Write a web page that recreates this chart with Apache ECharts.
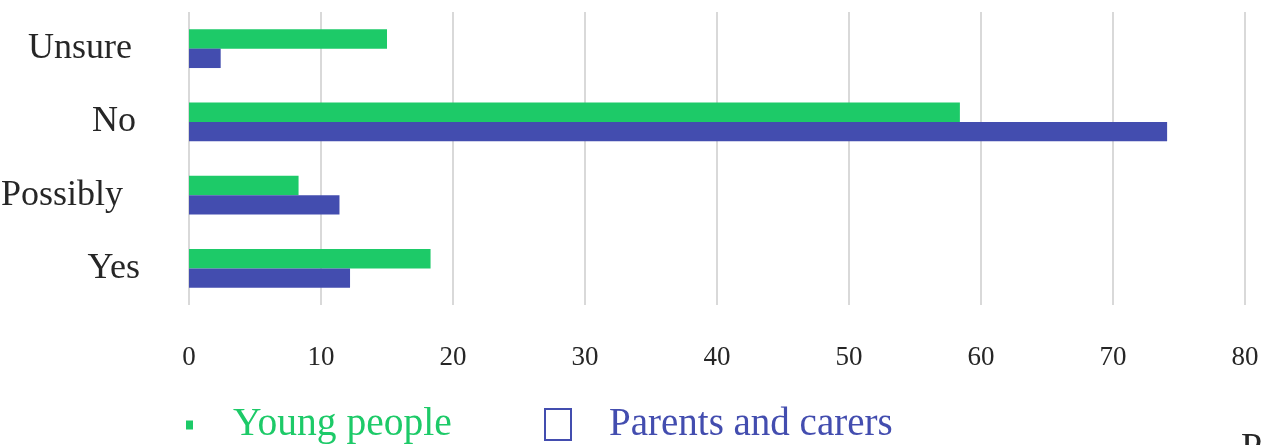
<!DOCTYPE html>
<html>
<head>
<meta charset="utf-8">
<script src="https://cdn.jsdelivr.net/npm/echarts@6/dist/echarts.min.js"></script>
<style>
  html, body { margin: 0; padding: 0; background: #fff; }
  #chart { width: 1269px; height: 445px; }
</style>
</head>
<body>
<div id="chart"></div>
<script>
// Survey answers, top to bottom
const categories = ['Unsure', 'No', 'Possibly', 'Yes'];
// Percentages per group
const youngPeople = [15.0, 58.4, 8.3, 18.3];
const parentsCarers = [2.4, 74.1, 11.4, 12.2];
const seriesNames = ['Young people', 'Parents and carers'];

const GREEN = '#1dca68';
const BLUE = '#434daf';
const INK = '#262626';
const SERIF = '"Liberation Serif", "DejaVu Serif", serif';

// Extra right padding of each category label (the labels sit a little irregularly)
const labelPadRight = { Unsure: 8, No: 4, Possibly: 17, Yes: 0 };

const chart = echarts.init(document.getElementById('chart'), null, { renderer: 'canvas' });

chart.setOption({
  backgroundColor: '#fff',
  animation: false,
  grid: { left: 189, right: 24, top: 12, bottom: 140, containLabel: false, outerBoundsMode: 'none' },
  xAxis: {
    type: 'value',
    min: 0,
    max: 80,
    interval: 10,
    axisLine: { show: false },
    axisTick: { show: false },
    splitLine: { show: true, lineStyle: { color: '#d9d9d9', width: 2 } },
    axisLabel: { fontSize: 27, fontFamily: SERIF, color: INK, margin: 39 }
  },
  yAxis: {
    type: 'category',
    inverse: true,
    data: categories.map(c => ({ value: c, textStyle: { padding: [6, labelPadRight[c], 0, 0] } })),
    axisLine: { show: false },
    axisTick: { show: false },
    splitLine: { show: false },
    axisLabel: { fontSize: 36, fontFamily: SERIF, color: INK, margin: 49 }
  },
  legend: [
    {
      data: [seriesNames[0]],
      left: 186,
      top: 405,
      padding: 0,
      icon: 'rect',
      itemWidth: 7,
      itemHeight: 9,
      itemStyle: { color: GREEN, borderWidth: 0 },
      textStyle: { fontSize: 39.5, fontFamily: SERIF, color: GREEN, padding: [0, 0, 0, 35] }
    },
    {
      data: [seriesNames[1]],
      left: 544,
      top: 405,
      padding: 0,
      icon: 'rect',
      itemWidth: 26,
      itemHeight: 31,
      itemStyle: { color: '#fff', borderColor: BLUE, borderWidth: 2 },
      textStyle: { fontSize: 39, fontFamily: SERIF, color: BLUE, padding: [0, 0, 0, 33] }
    }
  ],
  graphic: [
    {
      type: 'text',
      left: 1241,
      top: 430,
      style: { text: 'P', fontSize: 38, fontFamily: SERIF, fill: INK }
    }
  ],
  series: [
    {
      name: seriesNames[0],
      type: 'bar',
      data: youngPeople,
      barGap: '0%',
      barCategoryGap: '47%',
      itemStyle: { color: GREEN }
    },
    {
      name: seriesNames[1],
      type: 'bar',
      data: parentsCarers,
      barGap: '0%',
      barCategoryGap: '47%',
      itemStyle: { color: BLUE }
    }
  ]
});
</script>
</body>
</html>
